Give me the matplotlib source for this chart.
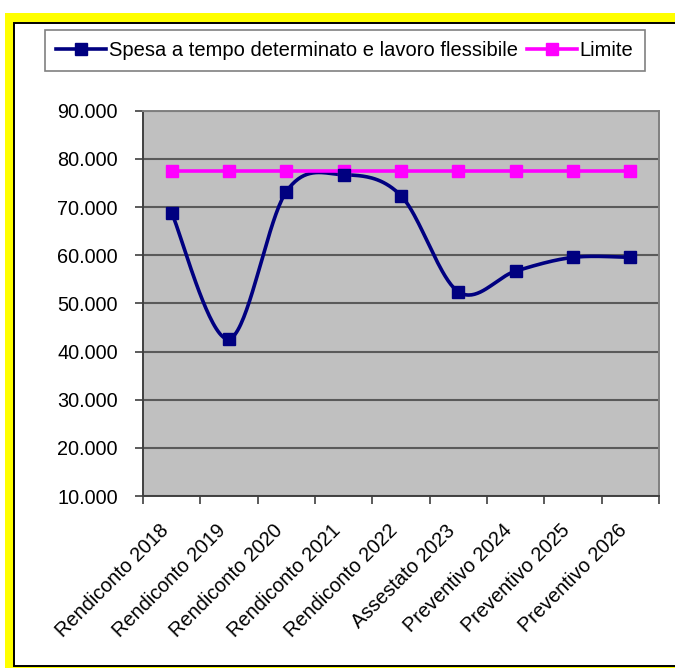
import numpy as np
import matplotlib
matplotlib.use("Agg")
import matplotlib.pyplot as plt
from matplotlib.patches import Rectangle
from matplotlib.lines import Line2D
from matplotlib.ticker import FixedLocator, FuncFormatter
from matplotlib.transforms import ScaledTranslation

plt.rcParams['font.family'] = ['Liberation Sans', 'DejaVu Sans']

categories = ["Rendiconto 2018", "Rendiconto 2019", "Rendiconto 2020",
              "Rendiconto 2021", "Rendiconto 2022", "Assestato 2023",
              "Preventivo 2024", "Preventivo 2025", "Preventivo 2026"]
spesa = [68800, 42600, 73200, 76700, 72350, 52400, 56700, 59550, 59550]
limite = [77480] * 9
y_ticks = [10000, 20000, 30000, 40000, 50000, 60000, 70000, 80000, 90000]

W, H = 675, 668
fig = plt.figure(figsize=(W / 100, H / 100), dpi=100)
fig.patch.set_facecolor("white")


def px(x, y):
    return x / W, 1 - y / H


# yellow outer band and white inner frame with black border
x0, y0 = px(5, 13)
x1, y1 = px(700, 668)
fig.add_artist(Rectangle((x0, y1), x1 - x0, y0 - y1, transform=fig.transFigure,
                         facecolor="#FFFF00", edgecolor="none", zorder=-3))
x0, y0 = px(14, 22.5)
x1, y1 = px(720, 666)
fig.add_artist(Rectangle((x0, y1), x1 - x0, y0 - y1, transform=fig.transFigure,
                         facecolor="white", edgecolor="black", linewidth=1.4, zorder=-2))

l, t = px(143, 110.7)
r, b = px(659, 496)
ax = fig.add_axes([l, b, r - l, t - b])
ax.set_zorder(1)
ax.set_facecolor("#C0C0C0")


def smooth(vals, n=40):
    """Piecewise cubic Bezier through the points (spreadsheet-style smoothing)."""
    p = np.column_stack([np.arange(len(vals)), np.asarray(vals, float)])
    xs, ys = [], []
    for i in range(len(p) - 1):
        pm = p[i - 1] if i > 0 else p[i]
        pn = p[i + 2] if i + 2 < len(p) else p[i + 1]
        c1 = p[i] + (p[i + 1] - pm) / 6
        c2 = p[i + 1] - (pn - p[i]) / 6
        tt = np.linspace(0, 1, n)[:, None]
        seg = ((1 - tt) ** 3) * p[i] + 3 * ((1 - tt) ** 2) * tt * c1 \
            + 3 * (1 - tt) * tt ** 2 * c2 + tt ** 3 * p[i + 1]
        xs.append(seg[:, 0]); ys.append(seg[:, 1])
    return np.concatenate(xs), np.concatenate(ys)


navy = "#000080"
mag = "#FF00FF"
xi = np.arange(len(categories))

sx, sy = smooth(spesa)
ax.plot(sx, sy, color=navy, lw=2.6, zorder=3, solid_capstyle="round")
ax.plot(xi, spesa, ls="none", marker="s", ms=8.5, color=navy, zorder=4)
ax.plot(xi, limite, color=mag, lw=2.6, marker="s", ms=8.5, zorder=3)

ax.set_xlim(-0.5, len(categories) - 0.5)
ax.set_ylim(y_ticks[0], y_ticks[-1])
ax.set_yticks(y_ticks)
ax.yaxis.set_major_formatter(FuncFormatter(lambda v, p: f"{int(v):,}".replace(",", ".")))
ax.grid(axis="y", color="#5A5A5A", lw=1.5, zorder=1)
ax.set_axisbelow(True)

ax.set_xticks(xi)
ax.set_xticklabels(categories, rotation=45, ha="right", va="top", rotation_mode="anchor")
ax.xaxis.set_minor_locator(FixedLocator(np.arange(-0.5, len(categories), 1.0)))
ax.tick_params(axis="x", which="major", length=0, pad=18, labelsize=14.3)
ax.tick_params(axis="x", which="minor", length=6, width=1.2, color="#404040")
ax.tick_params(axis="y", length=6, width=1.2, color="#404040", pad=12, labelsize=14.3)

shift = ScaledTranslation(-13 / 100, 0, fig.dpi_scale_trans)
for lab in ax.get_xticklabels():
    lab.set_transform(lab.get_transform() + shift)

for s in ("left", "bottom"):
    ax.spines[s].set_color("#404040")
    ax.spines[s].set_linewidth(1.4)
for s in ("top", "right"):
    ax.spines[s].set_color("#808080")
    ax.spines[s].set_linewidth(1.4)

handles = [Line2D([], [], color=navy, lw=2.6, marker="s", ms=8.5),
           Line2D([], [], color=mag, lw=2.6, marker="s", ms=8.5)]
lx, ly = px(45, 30)
leg = fig.legend(handles, ["Spesa a tempo determinato e lavoro flessibile", "Limite"],
                 loc="upper left", bbox_to_anchor=(lx, ly), ncol=2, fontsize=14.5,
                 frameon=True, fancybox=False, edgecolor="#808080", framealpha=1,
                 handlelength=2.5, handletextpad=0.15, columnspacing=0.4,
                 borderpad=0.55, borderaxespad=0)
leg.get_frame().set_linewidth(1.2)
leg.set_zorder(2)

fig.savefig("out.png", dpi=100)
